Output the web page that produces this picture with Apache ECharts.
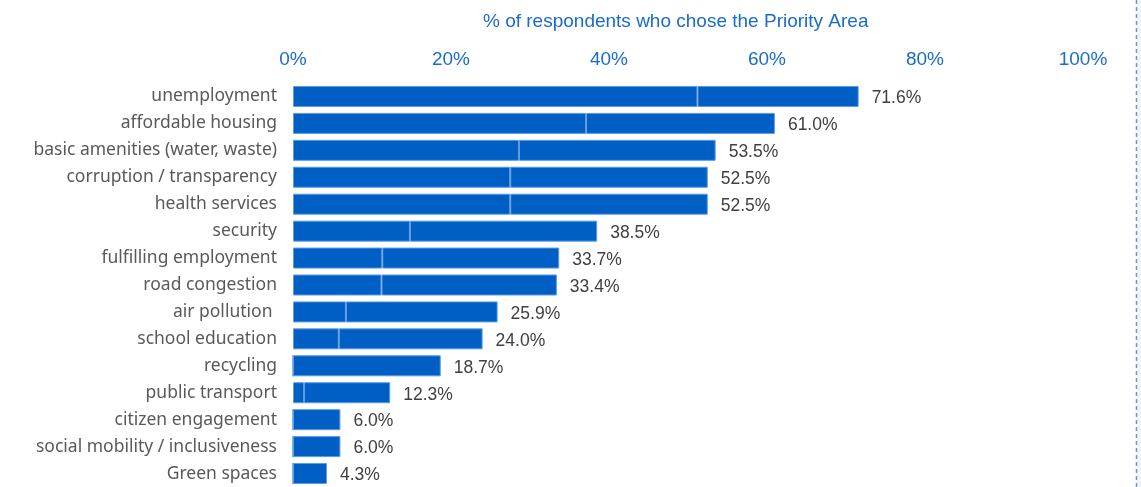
<!DOCTYPE html>
<html>
<head>
<meta charset="utf-8">
<script src="https://cdn.jsdelivr.net/npm/echarts@6/dist/echarts.min.js"></script>
<style>
  html, body { margin: 0; padding: 0; background: #fff; }
  #chart { width: 1141px; height: 487px; }
</style>
</head>
<body>
<div id="chart"></div>
<script>
// priority areas, top to bottom
var categories = [
  "unemployment", "affordable housing", "basic amenities (water, waste)",
  "corruption / transparency", "health services", "security",
  "fulfilling employment", "road congestion", "air pollution ",
  "school education", "recycling", "public transport",
  "citizen engagement", "social mobility / inclusiveness", "Green spaces"
];
// total % of respondents
var totals = [71.6, 61.0, 53.5, 52.5, 52.5, 38.5, 33.7, 33.4, 25.9, 24.0, 18.7, 12.3, 6.0, 6.0, 4.3];
// first segment of each bar
var firstPart = [51.2, 37.1, 28.6, 27.5, 27.5, 14.8, 11.3, 11.2, 6.7, 5.8, 0, 1.4, 0, 0, 0];
var restPart = totals.map(function (t, i) { return +(t - firstPart[i]).toFixed(1); });
var tickLabels = ["0%", "20%", "40%", "60%", "80%", "100%"];

var chart = echarts.init(document.getElementById("chart"));
var barColor = "#005fc5";
var edge = "#5d9be0";

chart.setOption({
  animation: false,
  title: {
    text: "% of respondents who chose the Priority Area",
    left: 478,
    top: 7,
    textStyle: { fontFamily: "Liberation Sans", fontSize: 19, fontWeight: "normal", color: "#1a6bcb" }
  },
  grid: { left: 293, right: 58, top: 83, bottom: 0 },
  xAxis: {
    type: "value",
    position: "top",
    min: 0,
    max: 100,
    interval: 20,
    axisLine: { show: false },
    axisTick: { show: false },
    splitLine: { show: false },
    axisLabel: {
      margin: 14,
      color: "#1a6bcb",
      fontFamily: "Liberation Sans",
      fontSize: 19,
      formatter: function (v) { return tickLabels[v / 20]; }
    }
  },
  yAxis: {
    type: "category",
    inverse: true,
    data: categories,
    axisLine: { show: false },
    axisTick: { show: false },
    axisLabel: { margin: 16, padding: [6, 0, 0, 0], color: "#595959", fontFamily: "Noto Sans", fontSize: 17.5 }
  },
  series: [
    {
      type: "bar",
      stack: "t",
      data: firstPart,
      barCategoryGap: "22%",
      itemStyle: { color: barColor, borderColor: edge, borderWidth: 1 }
    },
    {
      type: "bar",
      stack: "t",
      data: restPart,
      itemStyle: { color: barColor, borderColor: edge, borderWidth: 1 },
      label: {
        show: true,
        position: "right",
        distance: 13,
        offset: [0, 2],
        color: "#404040",
        fontFamily: "Liberation Sans",
        fontSize: 17.5,
        formatter: function (p) { return totals[p.dataIndex].toFixed(1) + "%"; }
      }
    }
  ],
  graphic: [
    {
      type: "rect",
      shape: { x: 1137, y: 0, width: 4, height: 487 },
      style: { fill: "#f4f4f4" },
      silent: true
    },
    {
      type: "line",
      shape: { x1: 1136.5, y1: 0, x2: 1136.5, y2: 487 },
      style: { stroke: "#5b9be0", lineWidth: 1.5, lineDash: [4, 3] },
      silent: true
    }
  ]
});
</script>
</body>
</html>
